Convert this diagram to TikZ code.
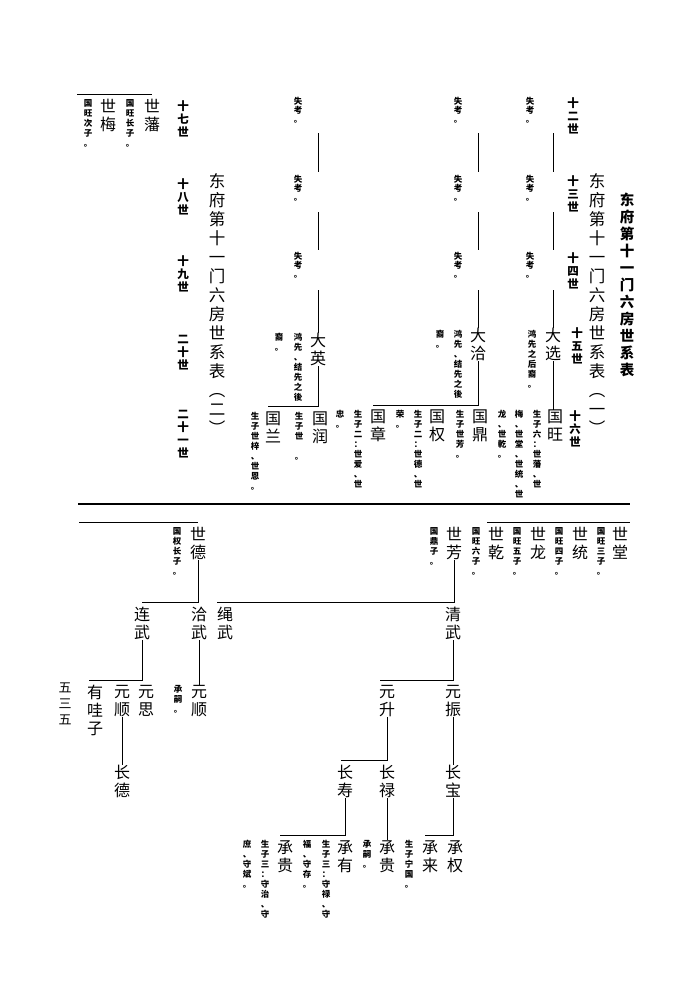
\documentclass[tikz,border=0pt]{standalone}
\usepackage{fontspec}
\setmainfont{Noto Sans CJK SC}
\def\vtloop#1{\ifx#1\relax\else\hbox to 1.05em{\hss#1\hss}\expandafter\vtloop\fi}
\newcommand\vt[1]{\vbox{\lineskiplimit=-20pt\lineskip=0pt\vtloop#1\relax}}
\tikzset{
person/.style = { font = \fontsize{16}{18}\selectfont, anchor = north, inner sep = 0pt },
gen/.style = { font = \fontsize{11.5}{13}\bfseries, anchor = north, inner sep = 0pt },
note/.style = { font = \fontsize{8.5}{10}\bfseries, anchor = north, inner sep = 0pt },
lost/.style = { font = \fontsize{8.5}{9}\bfseries, anchor = north, inner sep = 0pt },
heading/.style 2 args = { font = \fontsize{#1}{#2}\selectfont, anchor = north, inner sep = 0pt },
link/.style = { thick }
}
\begin{document}
\begin{tikzpicture}[x=1pt, y=-1pt]
	\useasboundingbox (0,0) rectangle (674,1007);
	% titles and generations
	\node[heading={14.5}{17}] (t1) at (627,193) {\bfseries\vt{东府第十一门六房世系表}};
	\node[heading={16.5}{19}] (t2) at (597,173) {\vt{东府第十一门六房世系表︵一︶}};
	\node[heading={16.5}{19}] (t3) at (217,173) {\vt{东府第十一门六房世系表︵二︶}};
	\foreach \n/\x/\y/\g in {g12/573/97/十二世, g13/573/175/十三世, g14/573/252/十四世,
		g15/577/327/十五世, g16/575/410/十六世, g17/183/100/十七世, g18/183/178/十八世,
		g19/183/255/十九世, g20/183/335/二十世, g21/183/410/二十一世}
		\node[gen] (\n) at (\x,\y) {\expandafter\vt\expandafter{\g}};
	% unknown ancestors
	\foreach \x/\n in {530/a, 458/b, 298/c}
		\foreach \y/\k in {97/1, 175/2, 252/3}
			\node[lost] (lost\n\k) at (\x,\y) {\vt{失考。}};
	\foreach \x in {553, 478, 318}
		\foreach \ya/\yb in {133/172, 212/250}
			\draw[link] (\x,\ya) -- (\x,\yb);
	% fifteenth generation
	\node[person] (dx) at (553,328) {\vt{大选}};
	\node[person] (dq) at (478,328) {\vt{大洽}};
	\node[person] (dy) at (318,333) {\vt{大英}};
	\draw[link] (553,290) -- (dx.north);
	\draw[link] (478,290) -- (dq.north);
	\draw[link] (318,290) -- (dy.north);
	\node[note] at (532,330) {\vt{鸿先之后裔。}};
	\node[note] at (458,330) {\vt{鸿先、结先之後}};
	\node[note] at (440,330) {\vt{裔。}};
	\node[note] at (298,333) {\vt{鸿先、结先之後}};
	\node[note] at (279,333) {\vt{裔。}};
	% sixteenth generation
	\node[person] (gw) at (555,410) {\vt{国旺}};
	\node[note] at (537,410) {\vt{生子六：世藩、世}};
	\node[note] at (519,410) {\vt{梅、世堂、世统、世}};
	\node[note] at (502,410) {\vt{龙、世乾。}};
	\node[person] (gd) at (480,410) {\vt{国鼎}};
	\node[note] at (460,410) {\vt{生子世芳。}};
	\node[person] (gq) at (437,410) {\vt{国权}};
	\node[note] at (418,410) {\vt{生子二：世德、世}};
	\node[note] at (400,410) {\vt{荣。}};
	\node[person] (gz) at (378,410) {\vt{国章}};
	\node[note] at (358,410) {\vt{生子二：世爱、世}};
	\node[note] at (340,410) {\vt{忠。}};
	\node[person] (gr) at (320,412) {\vt{国润}};
	\node[note] at (299,412) {\vt{生子世　。}};
	\node[person] (gl) at (273,412) {\vt{国兰}};
	\node[note] at (255,412) {\vt{生子世梓、世恩。}};
	\draw[link] (dx.south) -- (dx.south |- gw.north);
	\draw[link] (dq.south) |- ([xshift=-5pt,yshift=5pt]gz.north);
	\draw[link] (dy.south) |- ([xshift=-5pt,yshift=6pt]gl.north);
	% seventeenth generation, upper left
	\node[person] (sf) at (152,99) {\vt{世藩}};
	\node[note] at (130,99) {\vt{国旺长子。}};
	\node[person] (sm) at (108,99) {\vt{世梅}};
	\node[note] at (88,99) {\vt{国旺次子。}};
	\draw[link] (77,94) -- (152,94);
	% rule
	\draw[line width=2.5pt] (78,504) -- (630,504);
	\draw[link] (79,522) -- (198,522);
	\draw[link] (487,522) -- (630,522);
	% seventeenth generation, lower
	\node[person] (st) at (620,527) {\vt{世堂}};
	\node[note] at (601,527) {\vt{国旺三子。}};
	\node[person] (stg) at (580,527) {\vt{世统}};
	\node[note] at (559,527) {\vt{国旺四子。}};
	\node[person] (sl) at (538,527) {\vt{世龙}};
	\node[note] at (517,527) {\vt{国旺五子。}};
	\node[person] (sq) at (496,527) {\vt{世乾}};
	\node[note] at (476,527) {\vt{国旺六子。}};
	\node[person] (sfg) at (454,527) {\vt{世芳}};
	\node[note] at (434,527) {\vt{国鼎子。}};
	\node[person] (sd) at (198,527) {\vt{世德}};
	\node[note] at (177,527) {\vt{国权长子。}};
	% eighteenth generation
	\node[person] (lw) at (142,607) {\vt{连武}};
	\node[person] (qw) at (199,607) {\vt{洽武}};
	\node[person] (shw) at (225,607) {\vt{绳武}};
	\node[person] (qgw) at (453,607) {\vt{清武}};
	\draw[link] (sd.south) |- ([yshift=5pt]lw.north);
	\draw[link] (sfg.south) |- ([xshift=-8pt,yshift=5pt]shw.north);
	% nineteenth generation
	\node[person] (ys) at (146,685) {\vt{元思}};
	\node[person] (ysh) at (122,685) {\vt{元顺}};
	\node[person] (yw) at (95,685) {\vt{有哇子}};
	\node[person] (ysq) at (199,685) {\vt{元顺}};
	\node[note] at (178,685) {\vt{承嗣。}};
	\node[person] (yz) at (453,685) {\vt{元振}};
	\node[person] (ysg) at (387,685) {\vt{元升}};
	\draw[link] (lw.south) |- ([xshift=-6pt,yshift=5pt]yw.north);
	\draw[link] (qw.south) -- (ysq.north);
	\draw[link] (qgw.south) |- ([xshift=-7pt,yshift=5pt]ysg.north);
	% twentieth generation
	\node[person] (cd) at (122,765) {\vt{长德}};
	\node[person] (cb) at (453,765) {\vt{长宝}};
	\node[person] (cl) at (387,765) {\vt{长禄}};
	\node[person] (cs) at (345,765) {\vt{长寿}};
	\draw[link] (ysh.south) -- (cd.north);
	\draw[link] (yz.south) -- (cb.north);
	\draw[link] (ysg.south) |- ([xshift=-4pt,yshift=5pt]cs.north);
	% twenty-first generation
	\node[person] (cq) at (455,840) {\vt{承权}};
	\node[person] (clai) at (430,840) {\vt{承来}};
	\node[note] at (409,840) {\vt{生子宁国。}};
	\node[person] (cg) at (387,840) {\vt{承贵}};
	\node[note] at (367,840) {\vt{承嗣。}};
	\node[person] (cy) at (345,840) {\vt{承有}};
	\node[note] at (326,840) {\vt{生子三：守禄、守}};
	\node[note] at (307,840) {\vt{福、守存。}};
	\node[person] (cgg) at (285,840) {\vt{承贵}};
	\node[note] at (265,840) {\vt{生子三：守治、守}};
	\node[note] at (247,840) {\vt{庶、守斌。}};
	\draw[link] (cb.south) |- ([xshift=-5pt,yshift=5pt]clai.north);
	\draw[link] (cl.south) -- (cg.north);
	\draw[link] (cs.south) |- ([xshift=-5pt,yshift=5pt]cgg.north);
	% page number
	\node[heading={13}{16}] (page) at (65,683) {\vt{五三五}};
\end{tikzpicture}
\end{document}
